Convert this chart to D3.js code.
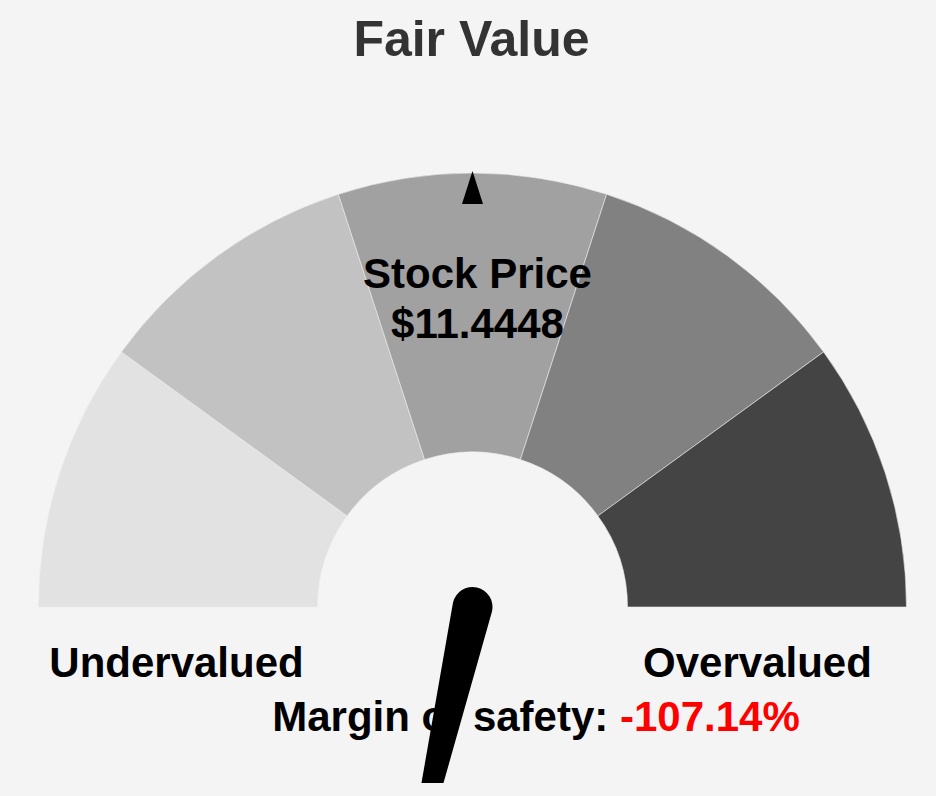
<!DOCTYPE html>
<html>
<head>
<meta charset="utf-8">
<script src="https://cdn.jsdelivr.net/npm/d3@7"></script>
<style>
  html, body { margin: 0; padding: 0; background: #f4f4f4; }
  svg { display: block; overflow: hidden; }
  text { font-family: "Liberation Sans", Arial, Helvetica, sans-serif; font-weight: bold; }
</style>
</head>
<body>
<svg id="chart" width="936" height="783"></svg>
<script>
// ---- data ----
const title = "Fair Value";
const segments = ["s1", "s2", "s3", "s4", "s5"];
const segmentValues = [1, 1, 1, 1, 1];
const segmentColors = ["#e2e2e2", "#c2c2c2", "#a1a1a1", "#818181", "#444444"];
const stockPrice = 11.4448;
const marginOfSafety = -107.14;
const marginDomain = [50, -50];        // margin of safety (%) shown by the gauge span
const zoneLabels = ["Undervalued", "Overvalued"];

// ---- layout ----
const W = 936, H = 783;
const cx = 472.5, cy = 607;
const rOuter = 434, rInner = 155;
const svg = d3.select("#chart");
svg.append("rect").attr("width", W).attr("height", H).attr("fill", "#f4f4f4");

// angle scale (degrees, 0 = up, clockwise positive)
const angle = d3.scaleLinear().domain(marginDomain).range([-90, 90]);

const g = svg.append("g").attr("transform", `translate(${cx},${cy})`);

const pie = d3.pie().sort(null).value(d => d)
  .startAngle(-Math.PI / 2).endAngle(Math.PI / 2);
const arc = d3.arc().innerRadius(rInner).outerRadius(rOuter);

g.selectAll("path.seg")
  .data(pie(segmentValues))
  .join("path")
  .attr("class", "seg")
  .attr("d", arc)
  .attr("fill", (d, i) => segmentColors[i])
  .attr("stroke", "#ececec")
  .attr("stroke-width", 0.6);

// stock price marker (triangle at margin 0)
const markerA = angle(0);
g.append("path")
  .attr("d", `M0,${-rOuter - 2} L10.5,${-rOuter + 31} L-10.5,${-rOuter + 31} Z`)
  .attr("transform", `rotate(${markerA})`)
  .attr("fill", "#000");

// title
svg.append("text")
  .attr("x", 471.5).attr("y", 56)
  .attr("text-anchor", "middle")
  .attr("font-size", 50)
  .attr("fill", "#333333")
  .text(title);

// stock price text
svg.append("text")
  .attr("x", 477.5).attr("y", 288)
  .attr("text-anchor", "middle")
  .attr("font-size", 42)
  .attr("fill", "#000")
  .text("Stock Price");
svg.append("text")
  .attr("x", 477.5).attr("y", 338)
  .attr("text-anchor", "middle")
  .attr("font-size", 42)
  .attr("fill", "#000")
  .text("$" + stockPrice);

// zone labels
svg.append("text")
  .attr("x", 176.5).attr("y", 677)
  .attr("text-anchor", "middle")
  .attr("font-size", 42)
  .attr("fill", "#000")
  .text(zoneLabels[0]);
svg.append("text")
  .attr("x", 757.5).attr("y", 677)
  .attr("text-anchor", "middle")
  .attr("font-size", 42)
  .attr("fill", "#000")
  .text(zoneLabels[1]);

// margin of safety
const mos = svg.append("text")
  .attr("x", 536).attr("y", 731)
  .attr("text-anchor", "middle")
  .attr("font-size", 42)
  .attr("fill", "#000");
mos.append("tspan").text("Margin of safety: ");
mos.append("tspan").attr("fill", "#ff0000").text(marginOfSafety.toFixed(2) + "%");

// needle
const needleLen = 390, needleR = 20;
g.append("path")
  .attr("d", `M${-needleR},0 L0,${-needleLen} L${needleR},0 A${needleR},${needleR} 0 0 1 ${-needleR},0 Z`)
  .attr("transform", `rotate(${angle(marginOfSafety)})`)
  .attr("fill", "#000");
</script>
</body>
</html>
